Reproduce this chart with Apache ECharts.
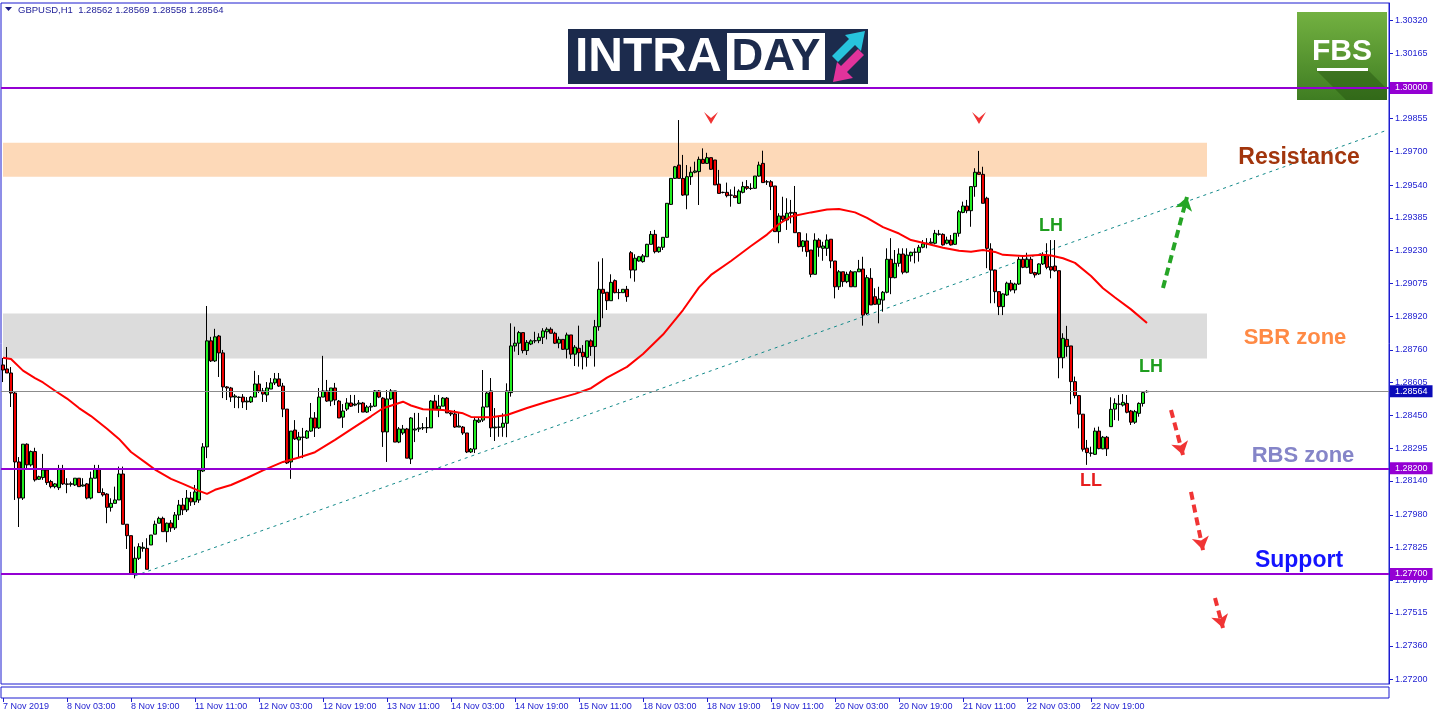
<!DOCTYPE html>
<html><head><meta charset="utf-8">
<script src="https://cdn.jsdelivr.net/npm/echarts@6/dist/echarts.min.js"></script>
<style>html,body{margin:0;padding:0;background:#fff;}#c{width:1436px;height:716px;}</style>
</head><body><div id="c"></div>
<script>
const symbolName = 'GBPUSD,H1';
const timeLabels = ['7 Nov 2019','8 Nov 03:00','8 Nov 19:00','11 Nov 11:00','12 Nov 03:00','12 Nov 19:00','13 Nov 11:00','14 Nov 03:00','14 Nov 19:00','15 Nov 11:00','18 Nov 03:00','18 Nov 19:00','19 Nov 11:00','20 Nov 03:00','20 Nov 19:00','21 Nov 11:00','22 Nov 03:00','22 Nov 19:00'];
const priceTicks = [1.30320,1.30165,1.29855,1.29700,1.29540,1.29385,1.29230,1.29075,1.28920,1.28760,1.28605,1.28450,1.28295,1.28140,1.27980,1.27825,1.27670,1.27515,1.27360,1.27200];
const yRange = [1.27179, 1.30402];
const totalSlots = 347;
// [open, close, low, high]
const candles = [
[1.28689,1.28665,1.28608,1.28722],[1.28670,1.28651,1.28651,1.28774],[1.28651,1.28556,1.28490,1.28679],[1.28556,1.28230,1.28050,1.28561],
[1.28230,1.28059,1.27922,1.28253],[1.28059,1.28314,1.28050,1.28314],[1.28314,1.28216,1.28192,1.28318],[1.28216,1.28279,1.28208,1.28284],
[1.28279,1.28145,1.28137,1.28297],[1.28148,1.28160,1.28145,1.28165],[1.28156,1.28192,1.28145,1.28268],[1.28192,1.28132,1.28121,1.28201],
[1.28137,1.28113,1.28105,1.28145],[1.28113,1.28126,1.28105,1.28130],[1.28108,1.28195,1.28097,1.28216],[1.28195,1.28126,1.28121,1.28216],
[1.28126,1.28124,1.28082,1.28153],[1.28124,1.28127,1.28113,1.28137],[1.28121,1.28153,1.28116,1.28153],[1.28153,1.28113,1.28113,1.28153],
[1.28116,1.28121,1.28113,1.28153],[1.28126,1.28059,1.28053,1.28130],[1.28059,1.28153,1.28053,1.28184],[1.28153,1.28195,1.28153,1.28216],
[1.28195,1.28085,1.28085,1.28216],[1.28085,1.28074,1.28066,1.28105],[1.28078,1.28015,1.27940,1.28082],[1.28015,1.28034,1.27995,1.28058],
[1.28034,1.28050,1.28034,1.28113],[1.28050,1.28173,1.28050,1.28208],[1.28173,1.27935,1.27935,1.28208],[1.27935,1.27881,1.27818,1.27935],
[1.27881,1.27700,1.27695,1.27881],[1.27700,1.27774,1.27679,1.27829],[1.27774,1.27829,1.27766,1.27845],[1.27821,1.27826,1.27805,1.27850],
[1.27821,1.27722,1.27722,1.27869],[1.27837,1.27884,1.27837,1.27884],[1.27888,1.27935,1.27888,1.27952],[1.27940,1.27963,1.27940,1.27971],
[1.27963,1.27900,1.27900,1.27971],[1.27900,1.27940,1.27850,1.27943],[1.27941,1.27918,1.27899,1.27955],[1.27918,1.27979,1.27908,1.27993],
[1.27979,1.28026,1.27955,1.28050],[1.28026,1.28003,1.27979,1.28059],[1.28003,1.28059,1.27993,1.28097],[1.28059,1.28041,1.28022,1.28088],
[1.28041,1.28088,1.28026,1.28121],[1.28050,1.28192,1.28036,1.28201],[1.28187,1.28301,1.28182,1.28319],[1.28301,1.28803,1.28248,1.28968],
[1.28803,1.28708,1.28703,1.28822],[1.28708,1.28822,1.28703,1.28860],[1.28826,1.28746,1.28632,1.28831],[1.28746,1.28585,1.28532,1.28760],
[1.28585,1.28580,1.28523,1.28589],[1.28580,1.28537,1.28514,1.28585],[1.28537,1.28542,1.28485,1.28551],[1.28537,1.28535,1.28484,1.28540],
[1.28537,1.28514,1.28485,1.28551],[1.28514,1.28518,1.28476,1.28537],[1.28514,1.28537,1.28509,1.28542],[1.28537,1.28599,1.28537,1.28661],
[1.28599,1.28566,1.28556,1.28641],[1.28566,1.28551,1.28514,1.28580],[1.28547,1.28580,1.28514,1.28608],[1.28575,1.28604,1.28575,1.28627],
[1.28604,1.28623,1.28594,1.28651],[1.28623,1.28589,1.28585,1.28651],[1.28589,1.28480,1.28442,1.28604],[1.28480,1.28225,1.28220,1.28480],
[1.28230,1.28376,1.28150,1.28376],[1.28381,1.28339,1.28334,1.28428],[1.28334,1.28348,1.28248,1.28372],[1.28348,1.28346,1.28248,1.28391],
[1.28343,1.28376,1.28339,1.28381],[1.28376,1.28438,1.28372,1.28509],[1.28438,1.28391,1.28348,1.28466],[1.28391,1.28537,1.28386,1.28580],
[1.28537,1.28566,1.28537,1.28732],[1.28566,1.28518,1.28514,1.28618],[1.28518,1.28580,1.28494,1.28580],[1.28580,1.28523,1.28499,1.28604],
[1.28518,1.28438,1.28438,1.28523],[1.28442,1.28471,1.28391,1.28504],[1.28480,1.28509,1.28471,1.28532],[1.28509,1.28494,1.28490,1.28547],
[1.28499,1.28504,1.28494,1.28547],[1.28504,1.28509,1.28462,1.28523],[1.28509,1.28466,1.28466,1.28514],[1.28466,1.28490,1.28462,1.28499],
[1.28490,1.28494,1.28471,1.28509],[1.28494,1.28566,1.28490,1.28570],[1.28566,1.28537,1.28532,1.28570],[1.28532,1.28372,1.28301,1.28537],
[1.28372,1.28528,1.28230,1.28570],[1.28528,1.28566,1.28523,1.28575],[1.28566,1.28324,1.28324,1.28566],[1.28324,1.28386,1.28319,1.28395],
[1.28367,1.28386,1.28358,1.28405],[1.28386,1.28248,1.28248,1.28391],[1.28244,1.28438,1.28220,1.28442],[1.28381,1.28386,1.28324,1.28462],
[1.28386,1.28391,1.28372,1.28462],[1.28391,1.28392,1.28381,1.28414],[1.28391,1.28393,1.28367,1.28442],[1.28391,1.28518,1.28391,1.28523],
[1.28518,1.28480,1.28480,1.28547],[1.28480,1.28494,1.28442,1.28547],[1.28494,1.28532,1.28494,1.28537],[1.28532,1.28462,1.28462,1.28537],
[1.28462,1.28457,1.28447,1.28466],[1.28457,1.28395,1.28391,1.28476],[1.28395,1.28400,1.28395,1.28462],[1.28395,1.28367,1.28358,1.28400],
[1.28367,1.28277,1.28272,1.28367],[1.28277,1.28291,1.28272,1.28296],[1.28291,1.28428,1.28272,1.28438],[1.28419,1.28428,1.28414,1.28442],
[1.28428,1.28490,1.28419,1.28665],[1.28490,1.28556,1.28490,1.28561],[1.28566,1.28391,1.28348,1.28627],[1.28391,1.28395,1.28329,1.28485],
[1.28395,1.28394,1.28349,1.28444],[1.28394,1.28413,1.28349,1.28460],[1.28413,1.28566,1.28347,1.28602],[1.28558,1.28779,1.28539,1.28886],
[1.28779,1.28792,1.28752,1.28870],[1.28792,1.28842,1.28736,1.28850],[1.28842,1.28757,1.28744,1.28842],[1.28757,1.28796,1.28736,1.28807],
[1.28788,1.28803,1.28783,1.28810],[1.28803,1.28804,1.28792,1.28846],[1.28804,1.28820,1.28792,1.28839],[1.28820,1.28850,1.28788,1.28863],
[1.28846,1.28858,1.28810,1.28867],[1.28858,1.28839,1.28839,1.28867],[1.28839,1.28792,1.28788,1.28846],[1.28792,1.28810,1.28768,1.28823],
[1.28810,1.28763,1.28760,1.28810],[1.28763,1.28831,1.28720,1.28842],[1.28831,1.28740,1.28717,1.28831],[1.28740,1.28773,1.28684,1.28783],
[1.28768,1.28747,1.28681,1.28875],[1.28749,1.28728,1.28668,1.28783],[1.28725,1.28803,1.28681,1.28803],[1.28803,1.28776,1.28732,1.28810],
[1.28776,1.28870,1.28681,1.28902],[1.28870,1.29047,1.28851,1.29178],[1.29047,1.29028,1.28910,1.29194],[1.29033,1.28993,1.28949,1.29033],
[1.28993,1.29080,1.28993,1.29118],[1.29088,1.29031,1.29028,1.29094],[1.29031,1.29032,1.29000,1.29049],[1.29031,1.29047,1.29031,1.29047],
[1.29047,1.29012,1.28988,1.29063],[1.29220,1.29138,1.29099,1.29228],[1.29138,1.29194,1.29083,1.29213],[1.29181,1.29201,1.29178,1.29205],
[1.29178,1.29205,1.29173,1.29214],[1.29201,1.29260,1.29201,1.29262],[1.29260,1.29307,1.29260,1.29323],[1.29307,1.29225,1.29217,1.29328],
[1.29225,1.29246,1.29220,1.29249],[1.29246,1.29293,1.29233,1.29293],[1.29293,1.29454,1.29291,1.29455],[1.29449,1.29572,1.29446,1.29572],
[1.29572,1.29627,1.29569,1.29631],[1.29635,1.29572,1.29572,1.29848],[1.29572,1.29493,1.29489,1.29683],[1.29493,1.29580,1.29426,1.29635],
[1.29580,1.29601,1.29541,1.29627],[1.29601,1.29607,1.29596,1.29651],[1.29604,1.29662,1.29446,1.29675],[1.29662,1.29643,1.29643,1.29714],
[1.29643,1.29670,1.29640,1.29693],[1.29670,1.29615,1.29612,1.29670],[1.29659,1.29541,1.29541,1.29659],[1.29545,1.29501,1.29501,1.29612],
[1.29506,1.29505,1.29501,1.29509],[1.29506,1.29490,1.29482,1.29552],[1.29493,1.29492,1.29438,1.29520],[1.29490,1.29481,1.29481,1.29533],
[1.29454,1.29512,1.29451,1.29520],[1.29506,1.29533,1.29501,1.29556],[1.29533,1.29525,1.29517,1.29564],[1.29525,1.29524,1.29517,1.29549],
[1.29525,1.29583,1.29522,1.29583],[1.29583,1.29635,1.29580,1.29651],[1.29643,1.29552,1.29552,1.29703],[1.29556,1.29555,1.29541,1.29564],
[1.29556,1.29533,1.29422,1.29564],[1.29536,1.29320,1.29320,1.29536],[1.29320,1.29394,1.29265,1.29407],[1.29394,1.29378,1.29367,1.29485],
[1.29375,1.29407,1.29328,1.29478],[1.29407,1.29411,1.29359,1.29470],[1.29411,1.29315,1.29315,1.29536],[1.29315,1.29249,1.29246,1.29315],
[1.29249,1.29276,1.29225,1.29280],[1.29276,1.29225,1.29201,1.29312],[1.29233,1.29118,1.29104,1.29233],[1.29118,1.29280,1.29118,1.29312],
[1.29280,1.29246,1.29201,1.29289],[1.29241,1.29252,1.29182,1.29272],[1.29241,1.29280,1.29205,1.29307],[1.29284,1.29181,1.29147,1.29284],
[1.29181,1.29059,1.29004,1.29181],[1.29059,1.29130,1.29044,1.29138],[1.29130,1.29083,1.29059,1.29130],[1.29083,1.29118,1.29076,1.29130],
[1.29130,1.29059,1.29059,1.29138],[1.29059,1.29130,1.29059,1.29130],[1.29130,1.29143,1.29130,1.29186],[1.29143,1.28925,1.28875,1.29201],
[1.28933,1.29102,1.28925,1.29115],[1.29099,1.28973,1.28973,1.29147],[1.29012,1.28976,1.28973,1.29052],[1.28976,1.29001,1.28886,1.29059],
[1.28996,1.29033,1.28941,1.29039],[1.29033,1.29189,1.29028,1.29241],[1.29189,1.29102,1.29024,1.29289],[1.29102,1.29170,1.29099,1.29233],
[1.29170,1.29214,1.29154,1.29241],[1.29214,1.29128,1.29118,1.29241],[1.29128,1.29209,1.29123,1.29241],[1.29206,1.29222,1.29178,1.29225],
[1.29222,1.29223,1.29170,1.29241],[1.29222,1.29246,1.29178,1.29257],[1.29246,1.29262,1.29241,1.29280],[1.29262,1.29265,1.29241,1.29289],
[1.29265,1.29270,1.29257,1.29289],[1.29265,1.29312,1.29260,1.29328],[1.29307,1.29309,1.29301,1.29328],[1.29307,1.29257,1.29254,1.29312],
[1.29265,1.29280,1.29260,1.29296],[1.29280,1.29257,1.29254,1.29304],[1.29260,1.29312,1.29257,1.29312],[1.29312,1.29414,1.29296,1.29422],
[1.29411,1.29441,1.29407,1.29462],[1.29441,1.29419,1.29407,1.29470],[1.29419,1.29533,1.29343,1.29533],[1.29533,1.29601,1.29485,1.29620],
[1.29601,1.29591,1.29591,1.29702],[1.29591,1.29454,1.29454,1.29627],[1.29478,1.29241,1.29147,1.29485],[1.29238,1.29138,1.28981,1.29265],
[1.29138,1.29036,1.28981,1.29138],[1.29036,1.28965,1.28925,1.29036],[1.28965,1.29025,1.28925,1.29028],[1.29020,1.29076,1.29016,1.29083],
[1.29076,1.29044,1.29036,1.29091],[1.29044,1.29072,1.29028,1.29078],[1.29072,1.29189,1.29068,1.29201],[1.29189,1.29151,1.29147,1.29201],
[1.29151,1.29189,1.29147,1.29220],[1.29189,1.29123,1.29120,1.29201],[1.29126,1.29115,1.29102,1.29130],[1.29120,1.29167,1.29115,1.29170],
[1.29167,1.29209,1.29162,1.29222],[1.29206,1.29151,1.29142,1.29265],[1.29154,1.29138,1.29099,1.29280],[1.29157,1.29135,1.29130,1.29280],
[1.29135,1.28723,1.28626,1.29135],[1.28723,1.28815,1.28673,1.28839],[1.28810,1.28776,1.28728,1.28874],[1.28779,1.28610,1.28503,1.28779],
[1.28610,1.28544,1.28531,1.28634],[1.28544,1.28456,1.28389,1.28547],[1.28456,1.28290,1.28279,1.28456],[1.28295,1.28274,1.28216,1.28334],
[1.28271,1.28272,1.28255,1.28302],[1.28266,1.28376,1.28263,1.28392],[1.28376,1.28293,1.28290,1.28397],[1.28292,1.28347,1.28290,1.28353],
[1.28347,1.28292,1.28258,1.28353],[1.28397,1.28479,1.28397,1.28536],[1.28480,1.28507,1.28428,1.28531],[1.28503,1.28504,1.28425,1.28547],
[1.28499,1.28512,1.28492,1.28551],[1.28507,1.28465,1.28460,1.28547],[1.28471,1.28418,1.28405,1.28476],[1.28418,1.28468,1.28410,1.28476],
[1.28460,1.28507,1.28444,1.28512],[1.28507,1.28558,1.28492,1.28562],[1.28562,1.28564,1.28558,1.28569]
];
// moving average readings: [bar index, value]
const maPoints = [[0,1.28723],[2,1.28717],[5,1.28662],[8,1.28627],[10,1.28606],[13,1.28567],[16,1.28530],[19,1.28485],[22,1.28447],[26,1.28387],[29,1.28339],[32,1.28277],[36,1.28222],[38,1.28194],[42,1.28150],[45,1.28126],[49,1.28093],[51,1.28079],[53,1.28098],[57,1.28121],[61,1.28154],[65,1.28190],[70,1.28230],[74,1.28251],[78,1.28276],[83,1.28334],[87,1.28384],[92,1.28446],[95,1.28484],[100,1.28515],[102,1.28497],[105,1.28479],[110,1.28476],[115,1.28460],[117,1.28443],[122,1.28441],[126,1.28452],[131,1.28485],[136,1.28515],[143,1.28552],[147,1.28579],[151,1.28629],[156,1.28680],[160,1.28741],[165,1.28833],[170,1.28949],[174,1.29056],[177,1.29115],[182,1.29181],[187,1.29252],[191,1.29306],[194,1.29356],[197,1.29392],[202,1.29411],[206,1.29425],[209,1.29427],[213,1.29411],[216,1.29385],[220,1.29341],[224,1.29311],[227,1.29280],[231,1.29263],[235,1.29244],[239,1.29229],[242,1.29225],[245,1.29233],[248,1.29224],[250,1.29210],[255,1.29205],[260,1.29210],[262,1.29207],[265,1.29194],[268,1.29172],[272,1.29110],[275,1.29052],[278,1.29008],[282,1.28952],[286,1.28888]];
const trendPoints = [[33,1.27691],[346,1.29800]];
const resistanceZone = [1.29580, 1.29741];
const sbrZone = [1.28719, 1.28932];
const levelLines = [1.30000, 1.28200, 1.27700];
const currentPrice = 1.28564;

const BLUE = '#1c1cd0';
const FONT = '"Liberation Sans", Arial, sans-serif';
const cats = Array.from({length: totalSlots}, (_, i) => String(i));
const isLabelIdx = (i) => i % 16 === 0 && i / 16 < timeLabels.length;
const last = candles[candles.length - 1];
const headerText = symbolName + '  ' + [last[0], last[3], last[2], last[1]].map(v => v.toFixed(5)).join(' ');

const chart = echarts.init(document.getElementById('c'));

const txt = (coord, text, color, size) => ({
  coord, value: text, symbolSize: 1, itemStyle: {color: 'rgba(0,0,0,0)'},
  label: {show: true, position: 'inside', formatter: text, color, fontSize: size, fontWeight: 'bold', fontFamily: FONT}
});
const chevron = (coord) => ({
  coord, symbol: 'path://M0,0 L6,5 L12,0 L6,10 Z', symbolSize: [14, 12],
  itemStyle: {color: '#f03434'}, label: {show: false}
});
const arrow = (a, b, color) => [
  {coord: a, lineStyle: {color, width: 4, type: [8, 5]}},
  {coord: b}
];
const lvlLabel = (bg, v) => ({
  show: true, position: 'end', distance: 1, formatter: v.toFixed(5),
  backgroundColor: bg, color: '#ffffff', fontSize: 9, fontFamily: FONT, padding: [2, 5, 1, 5]
});

const option = {
  animation: false,
  backgroundColor: '#ffffff',
  grid: [
    {left: 1, top: 3, width: 1388, bottom: 32, show: true, borderColor: BLUE, borderWidth: 1, outerBoundsMode: 'none', containLabel: false},
    {left: 1, top: 687, width: 1388, height: 11, show: true, borderColor: BLUE, borderWidth: 1, outerBoundsMode: 'none', containLabel: false}
  ],
  xAxis: [
    {type: 'category', data: cats, gridIndex: 0, show: false, boundaryGap: true},
    {type: 'category', data: cats, gridIndex: 1, boundaryGap: true,
     axisLine: {show: false},
     axisTick: {show: true, alignWithLabel: true, interval: (i) => isLabelIdx(i), length: 4, lineStyle: {color: BLUE}},
     axisLabel: {interval: (i) => isLabelIdx(i), formatter: (v, i) => isLabelIdx(i) ? timeLabels[i / 16] : '',
                 align: 'left', color: BLUE, fontSize: 9, fontFamily: FONT, margin: 4},
     splitLine: {show: false}}
  ],
  yAxis: [
    {type: 'value', gridIndex: 0, position: 'right', min: yRange[0], max: yRange[1], scale: true,
     splitLine: {show: false},
     axisLine: {show: true, lineStyle: {color: BLUE}},
     axisTick: {show: true, customValues: priceTicks, length: 4, lineStyle: {color: BLUE}},
     axisLabel: {customValues: priceTicks, formatter: (v) => Number(v).toFixed(5), color: BLUE, fontSize: 9, fontFamily: FONT, margin: 6}},
    {type: 'value', gridIndex: 1, show: false}
  ],
  series: [
    {
      type: 'candlestick', xAxisIndex: 0, yAxisIndex: 0, data: candles, barWidth: 3, z: 3,
      itemStyle: {color: '#22ee22', color0: '#f00000', borderColor: '#000000', borderColor0: '#000000', borderWidth: 1},
      markArea: {
        silent: true, z: 1,
        data: [
          [{coord: [0, resistanceZone[1]], itemStyle: {color: '#fdd9b8'}}, {coord: [301, resistanceZone[0]]}],
          [{coord: [0, sbrZone[1]], itemStyle: {color: '#dcdcdc'}}, {coord: [301, sbrZone[0]]}]
        ]
      },
      markLine: {
        silent: true, symbol: 'none', animation: false, precision: 5,
        data: [
          ...levelLines.map(v => ({yAxis: v, lineStyle: {color: '#9400d3', width: 2, type: 'solid'}, label: lvlLabel('#9400d3', v)})),
          {yAxis: currentPrice, lineStyle: {color: '#8c8c8c', width: 1, type: 'solid'}, label: lvlLabel('#0a0ab8', currentPrice)}
        ]
      }
    },
    {
      type: 'line', xAxisIndex: 0, yAxisIndex: 0, data: trendPoints, showSymbol: false, z: 2,
      lineStyle: {color: '#138a8a', width: 1, type: [3, 4]},
      markPoint: {
        silent: true, animation: false,
        data: [
          txt([324, 1.29668], 'Resistance', '#a2350c', 23),
          txt([323, 1.28812], 'SBR zone', '#ff8a45', 22),
          txt([325, 1.28254], 'RBS zone', '#8585c8', 22),
          txt([324, 1.27762], 'Support', '#1414ff', 23),
          txt([262, 1.29342], 'LH', '#1f9e1f', 18),
          txt([287, 1.28675], 'LH', '#1f9e1f', 18),
          txt([272, 1.28135], 'LL', '#e61e1e', 18),
          chevron([177, 1.29858]),
          chevron([244, 1.29858])
        ]
      },
      markLine: {
        silent: true, animation: false, symbol: ['none', 'arrow'], symbolSize: 13, precision: 5,
        label: {show: false},
        data: [
          arrow([290, 1.29053], [296, 1.29484], '#26a526'),
          arrow([292, 1.28476], [295, 1.28263], '#f03434'),
          arrow([297, 1.28088], [300, 1.27813], '#f03434'),
          arrow([303, 1.27586], [305, 1.27444], '#f03434')
        ]
      }
    },
    {
      type: 'line', xAxisIndex: 0, yAxisIndex: 0, data: maPoints, showSymbol: false, z: 4,
      lineStyle: {color: '#ff0000', width: 2}
    }
  ],
  graphic: [
    {type: 'polygon', z: 100, shape: {points: [[5, 7], [12, 7], [8.5, 11]]}, style: {fill: '#1a1a80'}},
    {type: 'text', z: 100, style: {x: 18, y: 10, text: headerText, fill: '#24249a', font: '9.5px ' + FONT, verticalAlign: 'middle'}},
    {type: 'group', z: 100, children: [
      {type: 'rect', shape: {x: 568, y: 29, width: 300, height: 55}, style: {fill: '#1c2b4d'}},
      {type: 'text', style: {x: 575, y: 58, text: 'INTRA', fill: '#ffffff', font: 'bold 48px ' + FONT, verticalAlign: 'middle'}},
      {type: 'rect', shape: {x: 727, y: 33, width: 98, height: 47}, style: {fill: '#ffffff'}},
      {type: 'text', style: {x: 776, y: 58, text: 'DAY', fill: '#1c2b4d', font: 'bold 44px ' + FONT, align: 'center', verticalAlign: 'middle'}},
      {type: 'polygon', shape: {points: [[865, 31], [861, 51], [855, 45], [838, 62], [832, 56], [849, 39], [845, 35]]}, style: {fill: '#27c3dd'}},
      {type: 'polygon', shape: {points: [[833, 82], [853, 78], [847, 72], [864, 55], [858, 49], [841, 66], [837, 62]]}, style: {fill: '#e2339b'}}
    ]},
    {type: 'group', z: 100, children: [
      {type: 'rect', shape: {x: 1297, y: 12, width: 90, height: 88},
       style: {fill: new echarts.graphic.LinearGradient(0, 0, 0, 1, [{offset: 0, color: '#73b141'}, {offset: 1, color: '#3f7d22'}])}},
      {type: 'polygon', shape: {points: [[1316, 70], [1368, 70], [1387, 89], [1387, 100], [1346, 100]]}, style: {fill: 'rgba(25,70,10,0.35)'}},
      {type: 'text', style: {x: 1342, y: 52, text: 'FBS', fill: '#ffffff', font: 'bold 30px ' + FONT, align: 'center', verticalAlign: 'middle'}},
      {type: 'rect', shape: {x: 1317, y: 68, width: 51, height: 3}, style: {fill: '#ffffff'}}
    ]}
  ]
};
chart.setOption(option);
</script>
</body></html>
